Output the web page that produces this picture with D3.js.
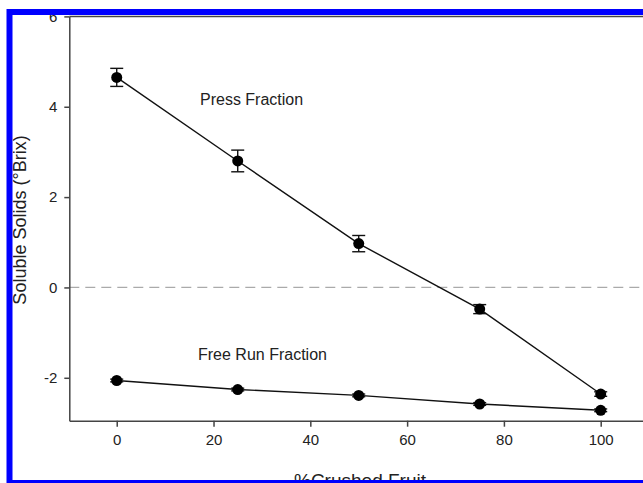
<!DOCTYPE html>
<html>
<head>
<meta charset="utf-8">
<script src="https://cdn.jsdelivr.net/npm/d3@7"></script>
<style>
  body { margin: 0; background: #fff; }
  svg { display: block; font-family: "Liberation Sans", Arial, Helvetica, sans-serif; }
  .axis path, .axis line { stroke: #444; stroke-width: 1.5; }
  .axis text { fill: #222; font-size: 15px; }
</style>
</head>
<body>
<script>
// data
var crushed = [0, 25, 50, 75, 100];
var pressValues = [4.65, 2.80, 0.97, -0.48, -2.36];
var pressErrors = [0.20, 0.24, 0.18, 0.10, 0.05];
var freeRunValues = [-2.06, -2.26, -2.39, -2.58, -2.72];
var freeRunErrors = [0.03, 0.03, 0.03, 0.03, 0.03];
var xTicks = [0, 20, 40, 60, 80, 100];
var yTicks = [-2, 0, 2, 4, 6];

var width = 643,
    height = 483,
    dotR = 5.5,
    capW = 6.5;

var svg = d3.select('body').append('svg')
    .attr('width', width)
    .attr('height', height);

var x = d3.scaleLinear().domain([-9.8, 110]).range([69.3, 649.1]);
var y = d3.scaleLinear().domain([-2.95, 6]).range([420.7, 16.4]);
var plain = function(d){ return String(d); };

// zero reference line
svg.append('line')
    .attr('x1', x(-9.8)).attr('x2', width)
    .attr('y1', y(0)).attr('y2', y(0))
    .attr('stroke', '#aaa')
    .attr('stroke-width', 1.2)
    .attr('stroke-dasharray', '10,6');

// axes
svg.append('g')
    .attr('class', 'axis')
    .attr('transform', 'translate(0,' + y(-2.95) + ')')
    .call(d3.axisBottom(x).tickValues(xTicks).tickFormat(plain).tickSize(6).tickPadding(8).tickSizeOuter(0));

svg.append('g')
    .attr('class', 'axis')
    .attr('transform', 'translate(' + x(-9.8) + ',0)')
    .call(d3.axisLeft(y).tickValues(yTicks).tickFormat(plain).tickSize(5).tickPadding(7).tickSizeOuter(0));

// top frame line
svg.append('line')
    .attr('x1', x(-9.8)).attr('x2', width)
    .attr('y1', y(6)).attr('y2', y(6))
    .attr('stroke', '#444')
    .attr('stroke-width', 1.5);

var drawSeries = function(values, errors){
  var pts = crushed.map(function(c, i){ return {x: c, y: values[i], e: errors[i]}; });

  svg.append('path')
      .datum(pts)
      .attr('fill', 'none')
      .attr('stroke', '#111')
      .attr('stroke-width', 1.4)
      .attr('d', d3.line().x(function(d){ return x(d.x); }).y(function(d){ return y(d.y); }));

  var g = svg.append('g').selectAll('g').data(pts).enter().append('g');

  g.append('line')
      .attr('x1', function(d){ return x(d.x); })
      .attr('x2', function(d){ return x(d.x); })
      .attr('y1', function(d){ return y(d.y + d.e); })
      .attr('y2', function(d){ return y(d.y - d.e); })
      .attr('stroke', '#111').attr('stroke-width', 1.4);

  [1, -1].forEach(function(s){
    g.append('line')
        .attr('x1', function(d){ return x(d.x) - capW; })
        .attr('x2', function(d){ return x(d.x) + capW; })
        .attr('y1', function(d){ return y(d.y + s * d.e); })
        .attr('y2', function(d){ return y(d.y + s * d.e); })
        .attr('stroke', '#111').attr('stroke-width', 1.4);
  });

  g.append('circle')
      .attr('cx', function(d){ return x(d.x); })
      .attr('cy', function(d){ return y(d.y); })
      .attr('r', dotR)
      .attr('fill', '#000');
}

drawSeries(pressValues, pressErrors);
drawSeries(freeRunValues, freeRunErrors);

// series labels
svg.append('text')
    .attr('x', 200).attr('y', 105)
    .attr('font-size', 16).attr('fill', '#222')
    .text('Press Fraction');

svg.append('text')
    .attr('x', 198).attr('y', 360)
    .attr('font-size', 16).attr('fill', '#222')
    .text('Free Run Fraction');

// axis titles
svg.append('text')
    .attr('transform', 'translate(26,220) rotate(-90)')
    .attr('text-anchor', 'middle')
    .attr('font-size', 18).attr('fill', '#222')
    .text('Soluble Solids (°Brix)');

svg.append('text')
    .attr('x', 360).attr('y', 487)
    .attr('text-anchor', 'middle')
    .attr('font-size', 19).attr('fill', '#222')
    .text('%Crushed Fruit');

// blue frame
svg.append('rect')
    .attr('x', 9.5).attr('y', 12)
    .attr('width', 720).attr('height', 471)
    .attr('fill', 'none')
    .attr('stroke', '#0000ff')
    .attr('stroke-width', 6);
</script>
</body>
</html>
